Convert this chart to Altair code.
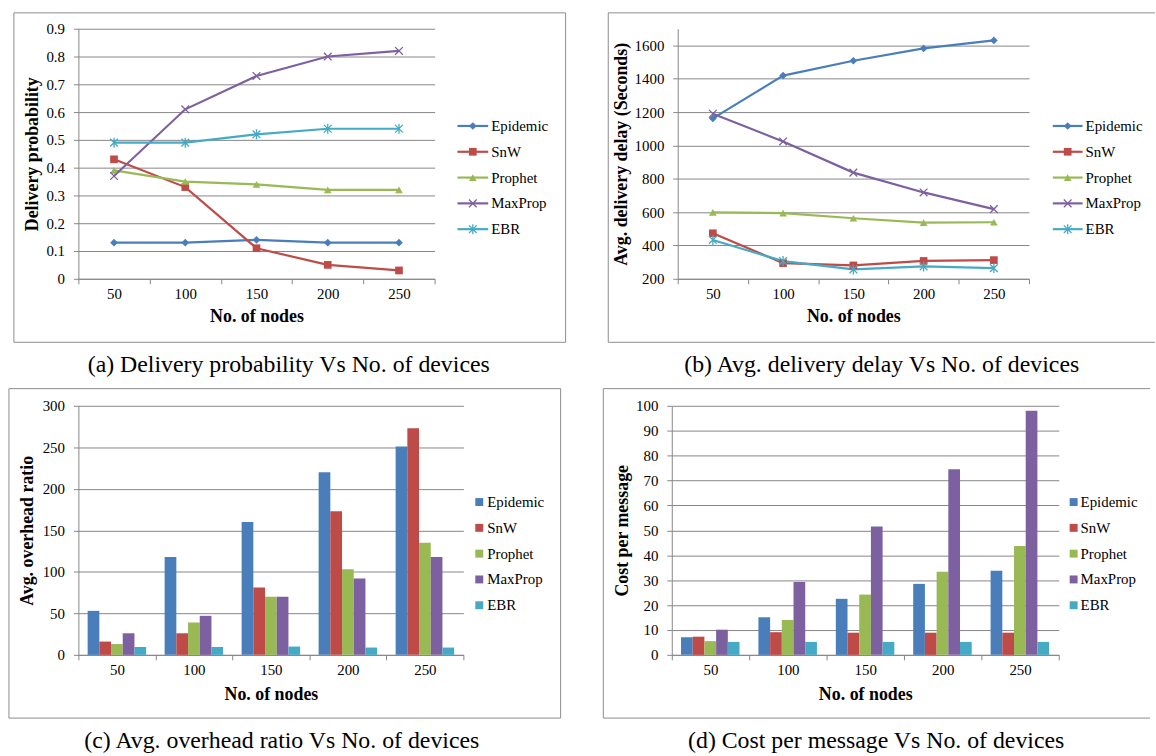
import altair as alt
import pandas as pd

# ---------------- data ----------------
nodes = [50, 100, 150, 200, 250]
series = ["Epidemic", "SnW", "Prophet", "MaxProp", "EBR"]

# (a) Delivery probability
dp_epidemic = [0.13, 0.13, 0.14, 0.13, 0.13]
dp_snw = [0.43, 0.33, 0.11, 0.05, 0.03]
dp_prophet = [0.39, 0.35, 0.34, 0.32, 0.32]
dp_maxprop = [0.37, 0.61, 0.73, 0.80, 0.82]
dp_ebr = [0.49, 0.49, 0.52, 0.54, 0.54]

# (b) Avg. delivery delay (seconds)
dl_epidemic = [1162, 1419, 1508, 1582, 1630]
dl_snw = [473, 294, 280, 307, 312]
dl_prophet = [598, 594, 563, 537, 539]
dl_maxprop = [1190, 1024, 837, 718, 618]
dl_ebr = [433, 306, 256, 274, 264]

# (c) Avg. overhead ratio
oh_epidemic = [53, 118, 160, 220, 251]
oh_snw = [16, 26, 81, 173, 273]
oh_prophet = [13, 39, 70, 103, 135]
oh_maxprop = [26, 47, 70, 92, 118]
oh_ebr = [9.5, 9.5, 10, 8.8, 8.8]

# (d) Cost per message
cp_epidemic = [7.1, 15.1, 22.5, 28.5, 33.8]
cp_snw = [7.3, 9.1, 8.9, 8.9, 8.9]
cp_prophet = [5.5, 14, 24.2, 33.4, 43.7]
cp_maxprop = [10.1, 29.3, 51.5, 74.5, 98]
cp_ebr = [5.2, 5.2, 5.2, 5.2, 5.2]

ticks_a = [0, 0.1, 0.2, 0.3, 0.4, 0.5, 0.6, 0.7, 0.8, 0.9]
ticks_b = [200, 400, 600, 800, 1000, 1200, 1400, 1600]
ticks_c = [0, 50, 100, 150, 200, 250, 300]
ticks_d = [0, 10, 20, 30, 40, 50, 60, 70, 80, 90, 100]

captions = [
    "(a) Delivery probability Vs No. of devices",
    "(b) Avg. delivery delay Vs No. of devices",
    "(c) Avg. overhead ratio Vs No. of devices",
    "(d) Cost per message Vs No. of devices",
]

# ---------------- styles ----------------
FONT = "Liberation Serif"
GRID = "#868686"
BORDER = "#8c8c8c"
line_colors = ["#4A7EBB", "#BE4B48", "#98B954", "#7D60A0", "#46AAC5"]
bar_colors = ["#4F81BD", "#C0504D", "#9BBB59", "#8064A2", "#4BACC6"]
marker_shapes = ["diamond", "square", "triangle-up",
                 "M-1,-1L1,1M-1,1L1,-1",
                 "M-1,-1L1,1M-1,1L1,-1M0,-1.3L0,1.3"]
filled_series = series[:3]
open_series = series[3:]


def long_table(cols):
    rows = []
    for s, vals in zip(series, cols):
        for n, v in zip(nodes, vals):
            rows.append({"nodes": n, "series": s, "value": v})
    return pd.DataFrame(rows)


one = pd.DataFrame({"k": [0]})
legend_df = pd.DataFrame({"series": series})


def decor(g):
    layers = []
    fx0, fx1, fy0, fy1 = g["frame"]
    layers.append(alt.Chart(one).mark_rect(opacity=0).encode(
        x=alt.value(fx0), x2=alt.value(fx1), y=alt.value(fy0), y2=alt.value(fy1)))
    bx0, bx1, by0, by1 = g["border"]
    if g["closed"]:
        layers.append(alt.Chart(one).mark_rect(fillOpacity=0, stroke=BORDER, strokeWidth=1).encode(
            x=alt.value(bx0), x2=alt.value(bx1), y=alt.value(by0), y2=alt.value(by1)))
    else:
        segs = [(bx0, bx1, by0, by0), (bx0, bx0, by0, by1), (bx0, bx1, by1, by1)]
        for (x0, x1, y0, y1) in segs:
            enc = dict(x=alt.value(x0), y=alt.value(y0))
            if x1 != x0:
                enc["x2"] = alt.value(x1)
            if y1 != y0:
                enc["y2"] = alt.value(y1)
            layers.append(alt.Chart(one).mark_rule(color=BORDER, strokeWidth=1).encode(**enc))
    cx, cy = g["caption_pos"]
    layers.append(alt.Chart(one).mark_text(font=FONT, fontSize=24, align="center",
                                           baseline="middle", color="black").encode(
        x=alt.value(cx), y=alt.value(cy), text=alt.value(g["caption"])))
    return layers


def x_axis(g):
    return alt.Axis(title="No. of nodes", titleX=g["w"] / 2, titleY=g["xtitle_y"],
                    titleBaseline="middle", labelAngle=0, tickBand="extent", grid=False,
                    tickSize=5, labelPadding=3, labelOverlap=False)


def y_axis(g, title, values, fmt):
    return alt.Axis(title=title, values=values, format=fmt, titleX=g["ytitle_x"],
                    titleY=g["h"] / 2, titleBaseline="middle", grid=True, tickSize=5,
                    labelPadding=9, labelOverlap=False)


def line_panel(df, ydom, yvals, yfmt, ytitle, g):
    xscale = alt.Scale(type="band", paddingInner=0, paddingOuter=0)
    yscale = alt.Scale(domain=ydom, nice=False, zero=False)
    color = alt.Color("series:N", scale=alt.Scale(domain=series, range=line_colors), legend=None)
    shape = alt.Shape("series:N", scale=alt.Scale(domain=series, range=marker_shapes), legend=None)
    xenc = alt.X("nodes:O", scale=xscale, bandPosition=0.5, axis=x_axis(g))
    xenc2 = alt.X("nodes:O", scale=xscale, bandPosition=0.5)
    base = alt.Chart(df)
    lines = base.mark_line(strokeWidth=2.2).encode(
        x=xenc, y=alt.Y("value:Q", scale=yscale, axis=y_axis(g, ytitle, yvals, yfmt)),
        color=color)
    pf = base.transform_filter(alt.FieldOneOfPredicate(field="series", oneOf=filled_series)).mark_point(
        filled=True, size=60, opacity=1).encode(
        x=xenc2, y=alt.Y("value:Q", scale=yscale, axis=None), color=color, shape=shape)
    po = base.transform_filter(alt.FieldOneOfPredicate(field="series", oneOf=open_series)).mark_point(
        filled=False, size=60, opacity=1, strokeWidth=1.3).encode(
        x=xenc2, y=alt.Y("value:Q", scale=yscale, axis=None), color=color, shape=shape)

    ly = alt.Y("series:N", scale=alt.Scale(type="point", domain=series, range=g["leg_rows"], padding=0), axis=None)
    lx0, lx1, mx, tx = g["leg_x"]
    lb = alt.Chart(legend_df)
    leg_line = lb.mark_rule(strokeWidth=2.2).encode(x=alt.value(lx0), x2=alt.value(lx1), y=ly, color=color)
    leg_pf = lb.transform_filter(alt.FieldOneOfPredicate(field="series", oneOf=filled_series)).mark_point(
        filled=True, size=60, opacity=1).encode(x=alt.value(mx), y=ly, color=color, shape=shape)
    leg_po = lb.transform_filter(alt.FieldOneOfPredicate(field="series", oneOf=open_series)).mark_point(
        filled=False, size=60, opacity=1, strokeWidth=1.3).encode(x=alt.value(mx), y=ly, color=color, shape=shape)
    leg_txt = lb.mark_text(font=FONT, fontSize=15, align="left", baseline="middle", color="black").encode(
        x=alt.value(tx), y=ly, text="series:N")

    return alt.layer(*decor(g), lines, pf, po, leg_line, leg_pf, leg_po, leg_txt).resolve_scale(
        y="independent").properties(width=g["w"], height=g["h"])


def bar_panel(df, ydom, yvals, yfmt, ytitle, g):
    xscale = alt.Scale(paddingInner=0, paddingOuter=0)
    yscale = alt.Scale(domain=ydom, nice=False, zero=True)
    color = alt.Color("series:N", scale=alt.Scale(domain=series, range=bar_colors), legend=None)
    bars = alt.Chart(df).mark_bar().encode(
        x=alt.X("nodes:O", scale=xscale, axis=x_axis(g)),
        xOffset=alt.XOffset("series:N", sort=series,
                            scale=alt.Scale(domain=series, paddingInner=0, paddingOuter=0.79)),
        y=alt.Y("value:Q", scale=yscale, axis=y_axis(g, ytitle, yvals, yfmt)),
        color=color)
    ly = alt.Y("series:N", scale=alt.Scale(type="point", domain=series, range=g["leg_rows"], padding=0), axis=None)
    mx, tx = g["leg_x"]
    lb = alt.Chart(legend_df)
    leg_sq = lb.mark_point(shape="square", filled=True, size=64, opacity=1).encode(
        x=alt.value(mx), y=ly, color=color)
    leg_txt = lb.mark_text(font=FONT, fontSize=15, align="left", baseline="middle", color="black").encode(
        x=alt.value(tx), y=ly, text="series:N")
    return alt.layer(*decor(g), bars, leg_sq, leg_txt).resolve_scale(
        y="independent").properties(width=g["w"], height=g["h"])


geom_a = dict(w=359, h=252, frame=(-73, 511, -25, 355), border=(-65, 491, -16, 316), closed=True,
              caption_pos=(212, 339), caption=captions[0], ytitle_x=-46, xtitle_y=38,
              leg_rows=[98, 202], leg_x=(382, 413, 397.5, 416))
geom_b = dict(w=354, h=252, frame=(-91, 481, -25, 355), border=(-70, 481, -16, 316), closed=False,
              caption_pos=(205.6, 339), caption=captions[1], ytitle_x=-56.5, xtitle_y=38,
              leg_rows=[98, 202], leg_x=(378, 408, 393, 411))
geom_c = dict(w=388, h=251, frame=(-78, 506, -23, 353), border=(-70, 486, -17.3, 314.7), closed=True,
              caption_pos=(205, 338), caption=captions[2], ytitle_x=-51, xtitle_y=40,
              leg_rows=[97, 201], leg_x=(404, 412))
geom_d = dict(w=390, h=251, frame=(-90, 482, -23, 353), border=(-69, 482, -17.3, 314.7), closed=False,
              caption_pos=(206, 338), caption=captions[3], ytitle_x=-50, xtitle_y=40,
              leg_rows=[97, 201], leg_x=(405, 412))

df_a = long_table([dp_epidemic, dp_snw, dp_prophet, dp_maxprop, dp_ebr])
df_b = long_table([dl_epidemic, dl_snw, dl_prophet, dl_maxprop, dl_ebr])
df_c = long_table([oh_epidemic, oh_snw, oh_prophet, oh_maxprop, oh_ebr])
df_d = long_table([cp_epidemic, cp_snw, cp_prophet, cp_maxprop, cp_ebr])

pa = line_panel(df_a, [0, 0.9], ticks_a, ".1~f", "Delivery probability", geom_a)
pb = line_panel(df_b, [200, 1700], ticks_b, "d", "Avg. delivery delay (Seconds)", geom_b)
pc = bar_panel(df_c, [0, 300], ticks_c, "d", "Avg. overhead ratio", geom_c)
pd_ = bar_panel(df_d, [0, 100], ticks_d, "d", "Cost per message", geom_d)

chart = alt.vconcat(
    alt.hconcat(pa, pb, spacing=0),
    alt.hconcat(pc, pd_, spacing=0),
    spacing=0,
).properties(
    padding={"left": 0, "top": 0, "right": 0, "bottom": 0},
    background="white",
).configure_view(
    stroke="transparent"
).configure_axis(
    labelFont=FONT, labelFontSize=15, labelColor="black",
    titleFont=FONT, titleFontSize=18, titleFontWeight="bold", titleColor="black",
    domainColor=GRID, tickColor=GRID, gridColor=GRID,
    domainWidth=1, gridWidth=1, tickWidth=1,
)

chart.save("out.html", embed_options={"renderer": "svg", "actions": False})
